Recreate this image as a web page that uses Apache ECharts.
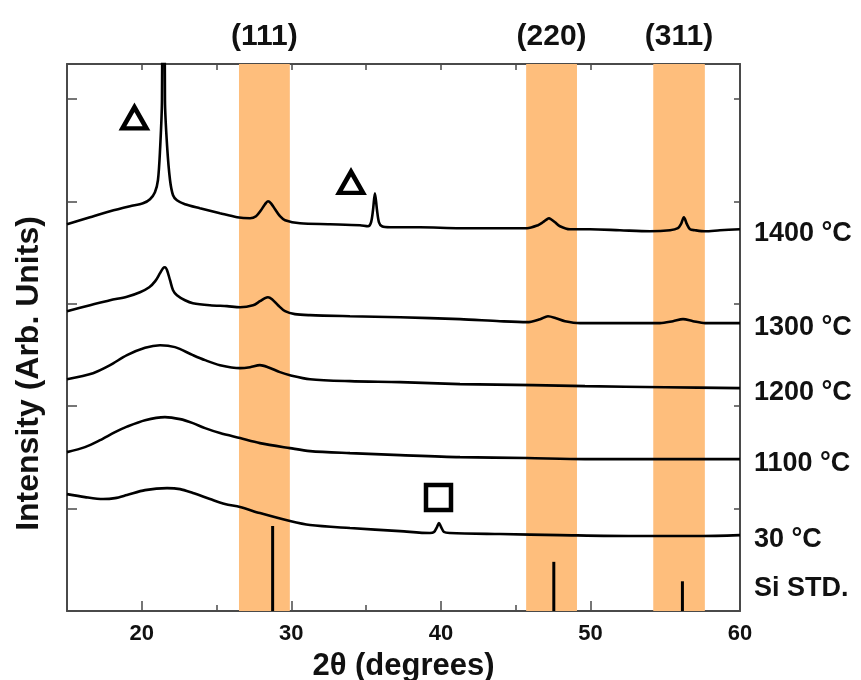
<!DOCTYPE html>
<html>
<head>
<meta charset="utf-8">
<script src="https://cdn.jsdelivr.net/npm/echarts@6/dist/echarts.min.js"></script>
<style>
html,body{margin:0;padding:0;background:#fff;}
#chart{width:861px;height:680px;}
</style>
</head>
<body>
<div id="chart"></div>
<script>
// ---- data ----
const x1400 = [15.00,16.54,17.88,19.21,20.08,20.55,20.88,21.08,21.22,21.35,21.45,21.55,21.69,21.89,22.09,22.35,22.89,23.89,25.23,26.37,27.24,27.64,27.97,28.24,28.44,28.64,28.91,29.24,29.58,30.58,32.58,34.59,35.13,35.33,35.46,35.59,35.73,35.86,36.06,36.60,38.60,41.28,43.95,45.76,46.49,46.82,47.09,47.23,47.36,47.63,47.96,48.63,49.97,51.97,53.98,55.32,55.85,56.05,56.25,56.45,56.66,56.99,57.66,58.66,60.00];
const y1400 = [3.776,3.844,3.902,3.951,3.980,4.020,4.088,4.205,4.498,4.985,9.0,4.985,4.546,4.205,4.059,4.010,3.971,3.932,3.883,3.844,3.834,3.854,3.912,3.971,4.000,3.980,3.922,3.854,3.815,3.785,3.776,3.766,3.756,3.795,3.912,4.078,3.912,3.795,3.756,3.746,3.746,3.737,3.737,3.737,3.766,3.795,3.824,3.834,3.824,3.795,3.756,3.727,3.727,3.717,3.707,3.717,3.737,3.776,3.844,3.776,3.727,3.717,3.707,3.717,3.727];

const x1300 = [15.00,16.54,17.88,19.01,19.88,20.50,20.90,21.22,21.42,21.55,21.69,21.89,22.09,22.35,22.89,23.42,24.56,25.70,26.57,27.44,27.90,28.24,28.44,28.71,29.11,29.58,30.24,31.25,33.92,37.27,41.28,43.95,45.76,46.63,47.16,47.70,48.30,49.30,51.97,54.65,55.52,56.19,56.86,57.66,60.00];
const y1300 = [2.927,2.985,3.034,3.068,3.112,3.161,3.220,3.298,3.346,3.356,3.327,3.229,3.132,3.083,3.034,3.005,2.985,2.976,2.966,2.985,3.024,3.054,3.063,3.044,2.985,2.927,2.898,2.888,2.878,2.868,2.849,2.829,2.820,2.849,2.878,2.859,2.829,2.810,2.810,2.810,2.829,2.849,2.829,2.810,2.810];

const x1200 = [15.00,16.74,17.88,19.01,20.22,21.22,22.22,23.42,24.23,25.23,26.57,27.24,27.90,28.44,29.24,29.91,31.25,33.92,37.27,41.28,46.16,49.64,54.99,60.00];
const y1200 = [2.263,2.322,2.400,2.498,2.570,2.595,2.576,2.498,2.449,2.400,2.371,2.380,2.400,2.380,2.332,2.302,2.263,2.244,2.234,2.215,2.205,2.195,2.185,2.176];

const x1100 = [15.00,16.20,17.21,18.21,19.01,20.22,21.55,22.56,23.42,24.23,25.23,26.57,27.90,29.91,31.25,33.92,37.27,41.28,45.76,49.64,60.00];
const y1100 = [1.551,1.600,1.668,1.746,1.800,1.863,1.893,1.873,1.834,1.785,1.737,1.688,1.639,1.590,1.561,1.541,1.522,1.502,1.493,1.483,1.483];

const x30 = [15.00,16.20,17.41,18.21,19.01,20.22,21.69,22.56,23.42,24.56,25.56,26.57,27.90,29.91,31.25,33.92,37.27,39.27,39.54,39.74,39.87,40.01,40.21,40.61,43.95,47.96,52.84,57.32,60.00];
const y30 = [1.141,1.112,1.093,1.102,1.132,1.180,1.200,1.190,1.151,1.093,1.044,1.015,0.956,0.878,0.839,0.810,0.780,0.761,0.771,0.820,0.859,0.820,0.771,0.761,0.751,0.741,0.732,0.732,0.741];

const curveNames = ['1400 °C','1300 °C','1200 °C','1100 °C','30 °C'];
const siName = 'Si STD.';
const siX = [28.75, 47.55, 56.15];
const siY = [0.83, 0.48, 0.29];
const siLabelY = 0.22;

const bandNames = ['(111)','(220)','(311)'];
const bandStart = [26.5, 45.7, 54.2];
const bandEnd = [29.9, 49.1, 57.65];

const triX = [19.51, 33.99];
const triY = [4.815, 4.185];
const sqX = [39.84];
const sqY = [1.107];

const xMajorTicks = [20,30,40,50,60];
const xMinorTicks = [25,35,45,55];
const xTopTicks = [20,25,30,35,40,45,50,55];

// ---- chart ----
const FONT = '"Liberation Sans", Arial, sans-serif';
const AX = '#4a4a4a';
const zip = (xs, ys) => xs.map((x, i) => [x, ys[i]]);
const curves = [[x1400,y1400],[x1300,y1300],[x1200,y1200],[x1100,y1100],[x30,y30]];

const lineSeries = curves.map((c, i) => ({
  type: 'line',
  name: curveNames[i],
  data: zip(c[0], c[1]),
  showSymbol: false,
  smooth: 0.3,
  clip: true,
  z: 4,
  lineStyle: {color: '#000', width: 2.6},
  endLabel: {
    show: true, formatter: curveNames[i], distance: 14, offset: [0, 4],
    fontSize: 27, fontWeight: 'bold', color: '#111', fontFamily: FONT
  }
}));

const option = {
  animation: false,
  backgroundColor: '#fff',
  grid: {left: 67, right: 121, top: 64, bottom: 69, containLabel: false, outerBoundsMode: 'none'},
  xAxis: [
    {
      type: 'value', min: 15, max: 60, position: 'bottom',
      axisLine: {show: true, onZero: false, lineStyle: {color: AX, width: 2}},
      axisTick: {show: true, inside: true, length: 10, customValues: xMajorTicks, lineStyle: {color: AX, width: 1.5}},
      axisLabel: {show: true, customValues: xMajorTicks, fontSize: 22, fontWeight: 'bold', color: '#111', margin: 12, fontFamily: FONT},
      splitLine: {show: false},
      name: '2θ (degrees)', nameLocation: 'middle', nameGap: 40,
      nameTextStyle: {fontSize: 31, fontWeight: 'bold', color: '#111', fontFamily: FONT}
    },
    {
      type: 'value', min: 15, max: 60, position: 'bottom',
      axisLine: {show: false, onZero: false},
      axisTick: {show: true, inside: true, length: 6, customValues: xMinorTicks, lineStyle: {color: AX, width: 1.5}},
      axisLabel: {show: false}, splitLine: {show: false}
    },
    {
      type: 'value', min: 15, max: 60, position: 'top',
      axisLine: {show: true, onZero: false, lineStyle: {color: AX, width: 2}},
      axisTick: {show: true, inside: true, length: 6, customValues: xTopTicks, lineStyle: {color: AX, width: 1.5}},
      axisLabel: {show: false}, splitLine: {show: false}
    }
  ],
  yAxis: [
    {
      type: 'value', min: 0, max: 5.34, interval: 1, position: 'left',
      axisLine: {show: true, onZero: false, lineStyle: {color: AX, width: 2}},
      axisTick: {show: true, inside: true, length: 10, lineStyle: {color: AX, width: 1.5}},
      axisLabel: {show: false}, splitLine: {show: false},
      name: 'Intensity (Arb. Units)', nameLocation: 'middle', nameGap: 22,
      nameTextStyle: {fontSize: 32, fontWeight: 'bold', color: '#111', fontFamily: FONT, padding: [0, 72, 0, 0]}
    },
    {
      type: 'value', min: 0, max: 5.34, interval: 1, position: 'right',
      axisLine: {show: true, onZero: false, lineStyle: {color: AX, width: 2}},
      axisTick: {show: true, inside: true, length: 6, lineStyle: {color: AX, width: 1.5}},
      axisLabel: {show: false}, splitLine: {show: false}
    }
  ],
  series: [
    {
      type: 'line', name: 'bands', data: [], z: 1, silent: true,
      markArea: {
        silent: true,
        itemStyle: {color: '#FEBE7C', opacity: 1},
        label: {show: true, position: 'top', distance: 12, fontSize: 30, fontWeight: 'bold', color: '#111', fontFamily: FONT},
        data: bandNames.map((n, i) => [{name: n, xAxis: bandStart[i]}, {xAxis: bandEnd[i]}])
      }
    },
    ...lineSeries,
    {
      type: 'bar', name: siName, data: zip(siX, siY), barWidth: 3, z: 3,
      itemStyle: {color: '#000'}
    },
    {
      type: 'scatter', name: 'siLabel', data: [[60, siLabelY]], symbolSize: 0, clip: false, z: 5,
      itemStyle: {opacity: 1},
      label: {show: true, position: 'right', distance: 14, formatter: siName, fontSize: 27, fontWeight: 'bold', color: '#111', fontFamily: FONT}
    },
    {
      type: 'scatter', name: 'triangle', data: zip(triX, triY), symbol: 'triangle', symbolSize: [24, 21], z: 5,
      itemStyle: {color: 'rgba(0,0,0,0)', borderColor: '#000', borderWidth: 4.5, opacity: 1}
    },
    {
      type: 'scatter', name: 'square', data: zip(sqX, sqY), symbol: 'rect', symbolSize: 25, z: 5,
      itemStyle: {color: 'rgba(0,0,0,0)', borderColor: '#000', borderWidth: 4.5, opacity: 1}
    }
  ]
};

const chart = echarts.init(document.getElementById('chart'), null, {renderer: 'canvas'});
chart.setOption(option);
</script>
</body>
</html>
